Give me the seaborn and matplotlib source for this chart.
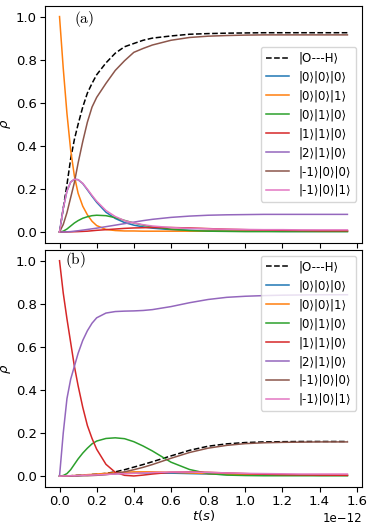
import matplotlib
matplotlib.use("Agg")
import matplotlib.pyplot as plt
import seaborn as sns
import numpy as np


# tiempo en unidades de 1e-12 s
t_ps = [0, 0.02, 0.04, 0.06, 0.08, 0.1, 0.125, 0.15, 0.175, 0.2, 0.25, 0.3, 0.35,
        0.4, 0.45, 0.5, 0.6, 0.7, 0.8, 0.9, 1.0, 1.1, 1.2, 1.3, 1.4, 1.55]

labels = ["|O---H⟩", "|0⟩|0⟩|0⟩", "|0⟩|0⟩|1⟩", "|0⟩|1⟩|0⟩", "|1⟩|1⟩|0⟩",
          "|2⟩|1⟩|0⟩", "|-1⟩|0⟩|0⟩", "|-1⟩|0⟩|1⟩"]

# panel (a)
oh_a = [0, 0.11, 0.22, 0.34, 0.43, 0.50, 0.58, 0.645, 0.69, 0.73, 0.785, 0.83, 0.86,
        0.875, 0.89, 0.90, 0.91, 0.918, 0.921, 0.923, 0.924, 0.925, 0.925, 0.925, 0.925, 0.925]
s000_a = [0, 0.11, 0.19, 0.232, 0.245, 0.243, 0.225, 0.196, 0.166, 0.138, 0.092, 0.063, 0.044,
          0.032, 0.024, 0.018, 0.011, 0.008, 0.006, 0.005, 0.004, 0.004, 0.003, 0.003, 0.003, 0.003]
s001_a = [1.0, 0.76, 0.55, 0.38, 0.26, 0.18, 0.12, 0.08, 0.05, 0.03, 0.012, 0.007, 0.005,
          0.005, 0.004, 0.004, 0.004, 0.004, 0.004, 0.004, 0.004, 0.004, 0.004, 0.004, 0.004, 0.004]
s010_a = [0, 0.004, 0.014, 0.028, 0.042, 0.053, 0.064, 0.071, 0.076, 0.078, 0.076, 0.067, 0.054,
          0.042, 0.032, 0.024, 0.013, 0.007, 0.004, 0.003, 0.002, 0.002, 0.002, 0.002, 0.002, 0.002]
s110_a = [0, 0.0002, 0.0005, 0.001, 0.0015, 0.002, 0.003, 0.004, 0.006, 0.008, 0.011, 0.014, 0.017,
          0.019, 0.02, 0.021, 0.021, 0.019, 0.016, 0.013, 0.011, 0.009, 0.008, 0.007, 0.006, 0.006]
s210_a = [0, 0.0005, 0.001, 0.002, 0.004, 0.006, 0.009, 0.012, 0.015, 0.018, 0.025, 0.032, 0.039,
          0.046, 0.053, 0.059, 0.068, 0.074, 0.078, 0.08, 0.081, 0.082, 0.082, 0.082, 0.082, 0.082]
sm100_a = [0, 0.035, 0.09, 0.16, 0.23, 0.32, 0.42, 0.51, 0.58, 0.625, 0.69, 0.75, 0.795,
           0.834, 0.852, 0.868, 0.89, 0.903, 0.909, 0.912, 0.914, 0.915, 0.915, 0.915, 0.915, 0.915]
sm101_a = [0, 0.11, 0.19, 0.232, 0.245, 0.243, 0.226, 0.199, 0.17, 0.143, 0.1, 0.072, 0.053,
           0.042, 0.034, 0.028, 0.021, 0.017, 0.015, 0.013, 0.012, 0.011, 0.011, 0.01, 0.01, 0.01]

# panel (b)
oh_b = [0, 0.001, 0.001, 0.002, 0.003, 0.004, 0.005, 0.006, 0.008, 0.009, 0.013, 0.02, 0.03,
        0.042, 0.054, 0.067, 0.094, 0.12, 0.139, 0.15, 0.156, 0.159, 0.16, 0.161, 0.161, 0.161]
s000_b = [0, 0.0005, 0.001, 0.0015, 0.002, 0.003, 0.004, 0.005, 0.006, 0.007, 0.009, 0.011, 0.013,
          0.014, 0.015, 0.015, 0.014, 0.012, 0.01, 0.008, 0.007, 0.006, 0.005, 0.005, 0.004, 0.004]
s001_b = [0, 0.001, 0.002, 0.002, 0.003, 0.004, 0.005, 0.007, 0.008, 0.01, 0.013, 0.016, 0.018,
          0.02, 0.02, 0.02, 0.018, 0.015, 0.012, 0.009, 0.007, 0.006, 0.005, 0.005, 0.004, 0.004]
s010_b = [0, 0.003, 0.012, 0.03, 0.055, 0.08, 0.107, 0.13, 0.15, 0.163, 0.175, 0.178, 0.174,
          0.16, 0.14, 0.117, 0.065, 0.031, 0.012, 0.005, 0.003, 0.002, 0.002, 0.002, 0.002, 0.002]
s110_b = [1.0, 0.85, 0.73, 0.62, 0.51, 0.42, 0.32, 0.235, 0.175, 0.125, 0.055, 0.018, 0.004,
          0.001, 0.005, 0.01, 0.018, 0.02, 0.018, 0.015, 0.012, 0.009, 0.007, 0.006, 0.005, 0.004]
s210_b = [0, 0.2, 0.36, 0.45, 0.51, 0.57, 0.63, 0.675, 0.71, 0.735, 0.757, 0.764, 0.766,
          0.767, 0.769, 0.773, 0.787, 0.805, 0.82, 0.83, 0.835, 0.838, 0.84, 0.841, 0.842, 0.842]
sm100_b = [0, 0, 0, 0.0005, 0.001, 0.001, 0.002, 0.002, 0.003, 0.004, 0.007, 0.012, 0.02,
           0.03, 0.041, 0.054, 0.083, 0.11, 0.13, 0.143, 0.151, 0.155, 0.157, 0.158, 0.159, 0.159]
sm101_b = [0, 0.001, 0.001, 0.002, 0.002, 0.003, 0.004, 0.005, 0.005, 0.006, 0.008, 0.01, 0.012,
           0.013, 0.015, 0.017, 0.019, 0.019, 0.017, 0.015, 0.013, 0.012, 0.011, 0.01, 0.01, 0.01]

panels = [
    ("(a)", [oh_a, s000_a, s001_a, s010_a, s110_a, s210_a, sm100_a, sm101_a], "center right", (0.091, 0.945)),
    ("(b)", [oh_b, s000_b, s001_b, s010_b, s110_b, s210_b, sm100_b, sm101_b], "upper right", (0.063, 0.958)),
]

t = np.array(t_ps) * 1e-12
colors = ["black"] + sns.color_palette("tab10", 7)

fig, axes = plt.subplots(2, 1, figsize=(3.73, 5.27), dpi=100, sharex=True)
fig.subplots_adjust(left=0.121, right=0.970, top=0.989, bottom=0.076, hspace=0.03)

for ax, (tag, series, loc, tag_pos) in zip(axes, panels):
    for i, (vals, lab) in enumerate(zip(series, labels)):
        sns.lineplot(x=t, y=vals, ax=ax, color=colors[i], label=lab,
                     linewidth=1.1, linestyle="--" if i == 0 else "-")
    ax.set_ylabel(r"$\rho$", fontsize=9.5, labelpad=2)
    ax.tick_params(labelsize=9.5, pad=2.5)
    ax.set_yticks([0.0, 0.2, 0.4, 0.6, 0.8, 1.0])
    ax.text(tag_pos[0], tag_pos[1], r"$\mathrm{" + tag + "}$", transform=ax.transAxes,
            math_fontfamily="cm", fontsize=11, va="center", ha="left")
    ax.legend(loc=loc, fontsize=8.5)

axes[1].set_xlabel(r"$t(s)$", fontsize=9.5, labelpad=0)
axes[1].set_xticks(np.arange(0, 1.7, 0.2) * 1e-12)
axes[1].xaxis.get_offset_text().set_fontsize(8.5)

fig.savefig("out.png", dpi=100)
